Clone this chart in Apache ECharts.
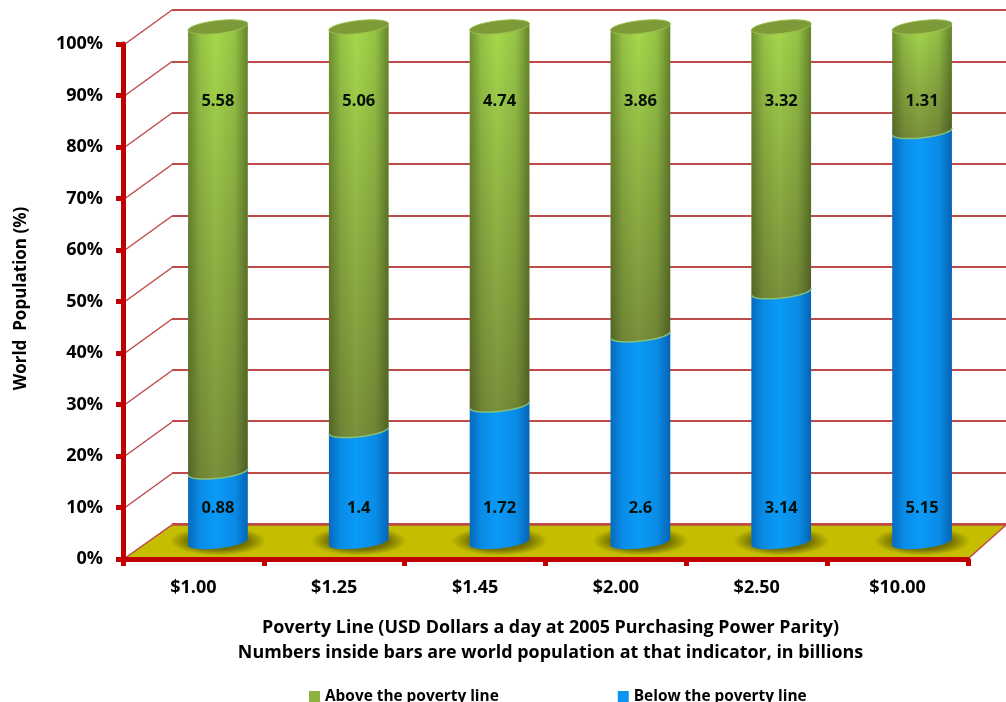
<!DOCTYPE html>
<html>
<head>
<meta charset="utf-8">
<style>
  html, body { margin: 0; padding: 0; background: #fff; }
  #chart { width: 1006px; height: 702px; }
</style>
<script src="https://cdn.jsdelivr.net/npm/echarts@6/dist/echarts.min.js"></script>
</head>
<body>
<div id="chart"></div>
<script>
// World population either side of each poverty line, in billions
const povertyLines = ['$1.00', '$1.25', '$1.45', '$2.00', '$2.50', '$10.00'];
const aboveBillions = [5.58, 5.06, 4.74, 3.86, 3.32, 1.31];
const belowBillions = [0.88, 1.4, 1.72, 2.6, 3.14, 5.15];
const percentTicks = [0, 10, 20, 30, 40, 50, 60, 70, 80, 90, 100];

const ABOVE_NAME = 'Above the poverty line';
const BELOW_NAME = 'Below the poverty line';
const FONT = '"Open Sans"';

// Percentage rows for the stacked cylinders: [category, from, to, label]
const belowRows = povertyLines.map((_, i) => {
  const total = aboveBillions[i] + belowBillions[i];
  return [i, 0, belowBillions[i] / total * 100, belowBillions[i]];
});
const aboveRows = povertyLines.map((_, i) => {
  const total = aboveBillions[i] + belowBillions[i];
  return [i, belowBillions[i] / total * 100, 100, aboveBillions[i]];
});

// Fake 3D projection: the back wall sits up and to the right of the axis plane
const DEPTH_X = 47, DEPTH_Y = -34;
const RIGHT_DEPTH_X = 38;
const RADIUS_X = 30, RADIUS_Y = 6.4, TILT = -6.4 * Math.PI / 180;
const ABOVE_LABEL_LEVEL = 85.6, BELOW_LABEL_LEVEL = 6.6;

function ellipsePoint(c, t) {
  const a = RADIUS_X * Math.cos(t), b = RADIUS_Y * Math.sin(t);
  return [c[0] + a * Math.cos(TILT) - b * Math.sin(TILT),
          c[1] + a * Math.sin(TILT) + b * Math.cos(TILT)];
}
function arc(c, from, to) {
  const pts = [];
  for (let i = 0; i <= 48; i++) pts.push(ellipsePoint(c, from + (to - from) * i / 48));
  return pts;
}
function midDepth(p) { return [p[0] + DEPTH_X / 2 + 1, p[1] + DEPTH_Y / 2]; }

function edgeShade(rgb) {
  return new echarts.graphic.LinearGradient(0, 0, 1, 0, [
    { offset: 0, color: 'rgba(' + rgb + ',0.42)' },
    { offset: 0.2, color: 'rgba(' + rgb + ',0.12)' },
    { offset: 0.46, color: 'rgba(' + rgb + ',0)' },
    { offset: 0.78, color: 'rgba(' + rgb + ',0.12)' },
    { offset: 1, color: 'rgba(' + rgb + ',0.48)' }
  ]);
}

function cylinderRenderer(isAbove) {
  const fill = isAbove
    ? new echarts.graphic.LinearGradient(0, 0, 0, 1, [
        { offset: 0, color: '#a6da4c' },
        { offset: 0.45, color: '#91b645' },
        { offset: 1, color: '#7a913a' }
      ])
    : '#0a9af7';
  const shade = isAbove ? edgeShade('30,40,10') : edgeShade('0,40,110');
  return function (params, api) {
    const cat = api.value(0);
    const base = midDepth(api.coord([cat, api.value(1)]));
    const tip = midDepth(api.coord([cat, api.value(2)]));
    const body = arc(base, 0, Math.PI).concat(arc(tip, Math.PI, 2 * Math.PI));
    const children = [
      { type: 'polygon', shape: { points: body }, style: { fill: fill } },
      { type: 'polygon', shape: { points: body }, style: { fill: shade } }
    ];
    if (isAbove) {
      children.push({
        type: 'polyline', shape: { points: arc(base, 0, Math.PI) },
        style: { fill: 'none', stroke: '#86c07a', lineWidth: 1.5 }
      });
      children.push({
        type: 'polygon', shape: { points: arc(tip, 0, 2 * Math.PI) },
        style: { fill: '#7c9a38', stroke: '#9dc04e', lineWidth: 1 }
      });
    }
    const level = isAbove ? ABOVE_LABEL_LEVEL : BELOW_LABEL_LEVEL;
    const at = midDepth(api.coord([cat, level]));
    children.push({
      type: 'text', x: at[0], y: at[1],
      style: {
        text: String(api.value(3)), fill: '#05100a',
        font: 'bold 16.5px ' + FONT, align: 'center', verticalAlign: 'middle'
      }
    });
    return { type: 'group', children: children };
  };
}

const option = {
  animation: false,
  backgroundColor: '#ffffff',
  textStyle: { fontFamily: FONT },
  legend: {
    data: [ABOVE_NAME, BELOW_NAME],
    left: 309, top: 689, padding: 0,
    icon: 'rect', itemWidth: 11, itemHeight: 11, itemGap: 119,
    selectedMode: false,
    textStyle: { fontFamily: FONT, fontWeight: 'bold', fontSize: 15.4, color: '#000' }
  },
  grid: [
    { left: 123, right: 38, top: 44, bottom: 143, outerBoundsMode: 'none' },
    { left: 172, right: 0, top: 10, bottom: 178, outerBoundsMode: 'none' }
  ],
  xAxis: [
    {
      type: 'category', gridIndex: 0, data: povertyLines, z: 3,
      axisLine: { lineStyle: { color: '#c00000', width: 5 } },
      axisTick: { show: true, alignWithLabel: false, length: 7, lineStyle: { color: '#c00000', width: 5 } },
      axisLabel: { color: '#000', fontFamily: FONT, fontWeight: 'bold', fontSize: 18, margin: 20 },
      name: 'Poverty Line (USD Dollars a day at 2005 Purchasing Power Parity)\nNumbers inside bars are world population at that indicator, in billions',
      nameLocation: 'middle', nameGap: 57,
      nameTextStyle: { color: '#000', fontFamily: FONT, fontWeight: 'bold', fontSize: 17.9, lineHeight: 24.5, padding: [0, 0, 0, 10] }
    },
    { type: 'category', gridIndex: 1, data: povertyLines, show: false }
  ],
  yAxis: [
    {
      type: 'value', gridIndex: 0, min: 0, max: 100, interval: 10, z: 3,
      axisLine: { show: true, lineStyle: { color: '#c00000', width: 5 } },
      axisTick: { show: true, length: 7, lineStyle: { color: '#c00000', width: 5 } },
      axisLabel: { color: '#000', fontFamily: FONT, fontWeight: 'bold', fontSize: 18, margin: 20, padding: [3, 0, 0, 0], formatter: '{value}%' },
      splitLine: { show: false },
      name: 'World  Population (%)',
      nameLocation: 'middle', nameGap: 93, nameRotate: 90,
      nameTextStyle: { color: '#000', fontFamily: FONT, fontWeight: 'bold', fontSize: 17, padding: [0, 0, 0, 6] }
    },
    {
      type: 'value', gridIndex: 1, min: 0, max: 100, interval: 10,
      axisLine: { show: false }, axisTick: { show: false }, axisLabel: { show: false },
      splitLine: { show: true, lineStyle: { color: '#bf4a4a', width: 2 } }
    }
  ],
  series: [
    {
      // Side wall rungs joining the axis plane to the back wall
      type: 'custom', name: 'wall', xAxisIndex: 0, yAxisIndex: 0, z: 1, silent: true,
      data: percentTicks.map(v => [0, v]),
      encode: { x: 0, y: 1 },
      renderItem(params, api) {
        const left = api.coord([0, api.value(1)]);
        const x = params.coordSys.x;
        return {
          type: 'line',
          shape: { x1: x + 2, y1: left[1], x2: x + DEPTH_X + 2, y2: left[1] + DEPTH_Y },
          style: { stroke: '#bf4a4a', lineWidth: 1.5 }
        };
      }
    },
    {
      // Floor of the box, with its shadows drawn after it
      type: 'custom', name: 'floor', xAxisIndex: 0, yAxisIndex: 0, z: 1, silent: true,
      data: [[0, 0]],
      encode: { x: 0, y: 1 },
      renderItem(params, api) {
        const sys = params.coordSys;
        const y = api.coord([0, 0])[1];
        return {
          type: 'polygon',
          shape: { points: [
            [sys.x + 2, y - 1],
            [sys.x + sys.width + 1, y - 1],
            [sys.x + sys.width + RIGHT_DEPTH_X, y + DEPTH_Y],
            [sys.x + DEPTH_X + 2, y + DEPTH_Y]
          ] },
          style: { fill: '#c4bd00', stroke: '#bf4a4a', lineWidth: 1.4 }
        };
      }
    },
    {
      type: 'custom', name: 'shadow', xAxisIndex: 0, yAxisIndex: 0, z: 1, silent: true,
      data: povertyLines.map((_, i) => [i, 0]),
      encode: { x: 0, y: 1 },
      renderItem(params, api) {
        const c = midDepth(api.coord([api.value(0), 0]));
        return {
          type: 'circle', x: c[0], y: c[1] - 1, scaleY: 0.3,
          shape: { cx: 0, cy: 0, r: 48 },
          style: {
            fill: new echarts.graphic.RadialGradient(0.5, 0.5, 0.5, [
              { offset: 0, color: 'rgba(70,70,0,0.95)' },
              { offset: 0.62, color: 'rgba(70,70,0,0.62)' },
              { offset: 1, color: 'rgba(70,70,0,0)' }
            ])
          }
        };
      }
    },
    {
      type: 'custom', name: BELOW_NAME, xAxisIndex: 0, yAxisIndex: 0, z: 4,
      itemStyle: { color: '#0a96f0' },
      data: belowRows, encode: { x: 0, y: [1, 2] },
      renderItem: cylinderRenderer(false)
    },
    {
      type: 'custom', name: ABOVE_NAME, xAxisIndex: 0, yAxisIndex: 0, z: 5,
      itemStyle: { color: '#8db23f' },
      data: aboveRows, encode: { x: 0, y: [1, 2] },
      renderItem: cylinderRenderer(true)
    }
  ]
};

echarts.init(document.getElementById('chart'), null, { renderer: 'canvas' }).setOption(option);
</script>
</body>
</html>
